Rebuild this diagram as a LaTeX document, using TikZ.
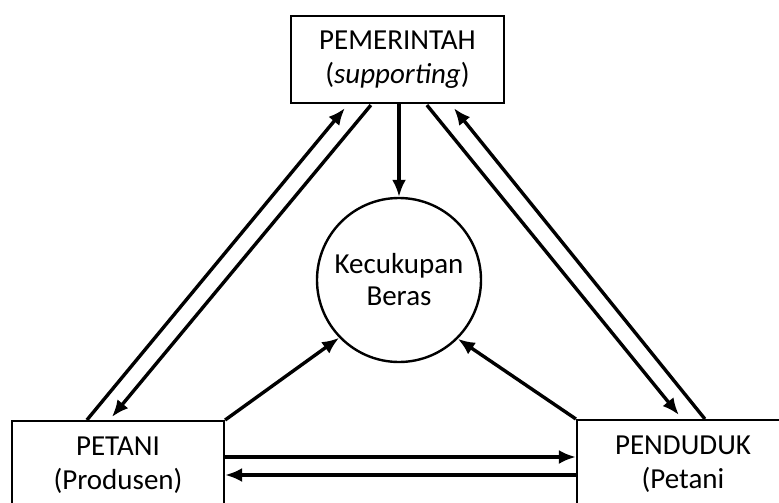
\documentclass[tikz,border=0pt]{standalone}
\usepackage{fontspec}
\setmainfont{Carlito}
\usetikzlibrary{arrows.meta,calc}
\begin{document}
\begin{tikzpicture}[x=1pt,y=-1pt,
  txt/.style={align=center,font=\fontsize{29}{34}\selectfont},
  box/.style={txt,draw,line width=2.2pt,inner xsep=0pt},
  arr/.style={line width=3.4pt,-{Latex[length=17pt,width=14pt]}},
  ln/.style={line width=3.4pt}]
\useasboundingbox (0,0) rectangle (779,503);
\clip (0,0) rectangle (779,503);
\node[box,minimum width=213pt,minimum height=87pt,inner ysep=0pt] (gov) at (397.5,59.5) {PEMERINTAH\\(\textit{supporting})};
\node[txt,draw,circle,line width=2.4pt,minimum size=164pt,inner sep=0pt] (kb) at (399,280) {Kecukupan\\[-2pt]Beras};
\node[box,anchor=north,minimum width=212pt,inner ysep=16pt] (pet) at (118,420) {PETANI\\(Produsen)};
\node[box,anchor=north,minimum width=212pt,inner ysep=16pt] (pen) at (683,419) {PENDUDUK\\(Petani};
% helper coordinates
\coordinate (h1) at (0,457);
\coordinate (h2) at (0,475);
% top to circle
\draw[arr] (kb.north |- gov.south) -- (kb.north);
% left pair
\draw[arr] ($(pet.north west)+(76,0)$) -- ($(gov.south west)+(55,4)$);
\draw[arr] ($(gov.south west)+(81,1)$) -- ($(pet.north west)+(101,-3)$);
% right pair
\draw[arr] ($(gov.south west)+(137,1)$) -- ($(pen.north west)+(103,-4)$);
\draw[arr] ($(pen.north west)+(129,0)$) -- ($(gov.south west)+(164,4)$);
% corners to circle
\draw[arr] (pet.north east) -- (kb.224);
\draw[arr] (pen.north west) -- (kb.-45);
% horizontal
\draw[arr] (pet.east |- h1) -- (pen.west |- h1);
\draw[arr] (pen.west |- h2) -- (pet.east |- h2);
\end{tikzpicture}
\end{document}
